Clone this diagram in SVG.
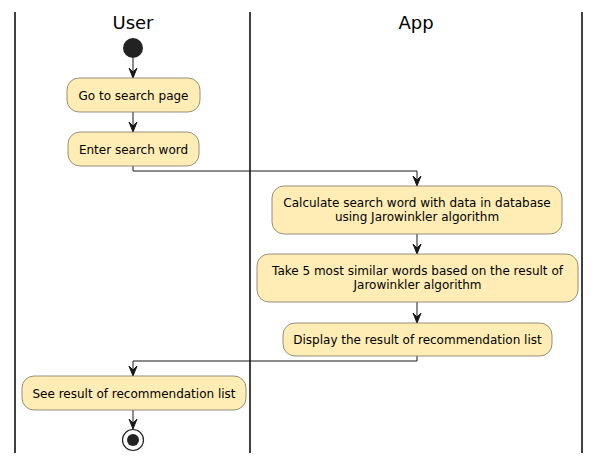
<svg xmlns="http://www.w3.org/2000/svg" width="601" height="463" viewBox="0 0 601 463">
<style>
.lane{stroke:#000;stroke-width:1.5}
.title{font-family:"DejaVu Sans",sans-serif;font-size:18px;fill:#000;text-anchor:middle}
.box{fill:#FFEDB5;stroke:#7E7562;stroke-width:0.8}
.t{font-family:"DejaVu Sans",sans-serif;font-size:12px;fill:#000;text-anchor:middle}
.c{fill:none;stroke:#181818;stroke-width:1}
.ah{fill:#181818;stroke:#181818;stroke-width:1}
</style>
<rect width="601" height="463" fill="#fff"/>
<g id="lanes">
<line class="lane" x1="15" y1="12" x2="15" y2="453"/>
<line class="lane" x1="250" y1="12" x2="250" y2="453"/>
<line class="lane" x1="582" y1="12" x2="582" y2="453"/>
<text class="title" x="133" y="29">User</text>
<text class="title" x="416" y="29">App</text>
</g>
<g id="connectors">
<line class="c" x1="133" y1="58" x2="133" y2="77"/>
<polygon class="ah" points="129,68 133,78 137,68 133,72"/>
<line class="c" x1="133" y1="112" x2="133" y2="131"/>
<polygon class="ah" points="129,122 133,132 137,122 133,126"/>
<polyline class="c" points="133,166 133,171 417,171 417,185"/>
<polygon class="ah" points="413,176 417,186 421,176 417,180"/>
<line class="c" x1="417" y1="234" x2="417" y2="253"/>
<polygon class="ah" points="413,244 417,254 421,244 417,248"/>
<line class="c" x1="417" y1="302" x2="417" y2="322"/>
<polygon class="ah" points="413,313 417,323 421,313 417,317"/>
<polyline class="c" points="417,356 417,361 133,361 133,375"/>
<polygon class="ah" points="129,366 133,376 137,366 133,370"/>
<line class="c" x1="133" y1="410" x2="133" y2="428"/>
<polygon class="ah" points="129,419 133,429 137,419 133,423"/>
</g>
<g id="start"><circle cx="133" cy="48" r="10" fill="#222"/></g>
<g id="n1"><rect class="box" x="67" y="78" width="133" height="34" rx="12"/><text class="t" x="133.5" y="99.5">Go to search page</text></g>
<g id="n2"><rect class="box" x="68" y="132" width="131" height="34" rx="12"/><text class="t" x="133.5" y="153.5">Enter search word</text></g>
<g id="n3"><rect class="box" x="272" y="186" width="290" height="48" rx="12"/><text class="t" x="417" y="207">Calculate search word with data in database</text><text class="t" x="417" y="221">using Jarowinkler algorithm</text></g>
<g id="n4"><rect class="box" x="257" y="254" width="321" height="48" rx="12"/><text class="t" x="417.5" y="275">Take 5 most similar words based on the result of</text><text class="t" x="417.5" y="289">Jarowinkler algorithm</text></g>
<g id="n5"><rect class="box" x="283" y="323" width="269" height="33" rx="12"/><text class="t" x="417.5" y="344">Display the result of recommendation list</text></g>
<g id="n6"><rect class="box" x="22" y="376" width="224" height="34" rx="12"/><text class="t" x="134" y="397.5">See result of recommendation list</text></g>
<g id="end"><circle cx="133" cy="440" r="10.5" fill="#fff" stroke="#222" stroke-width="1.2"/><circle cx="133" cy="440" r="6" fill="#222"/></g>
</svg>
